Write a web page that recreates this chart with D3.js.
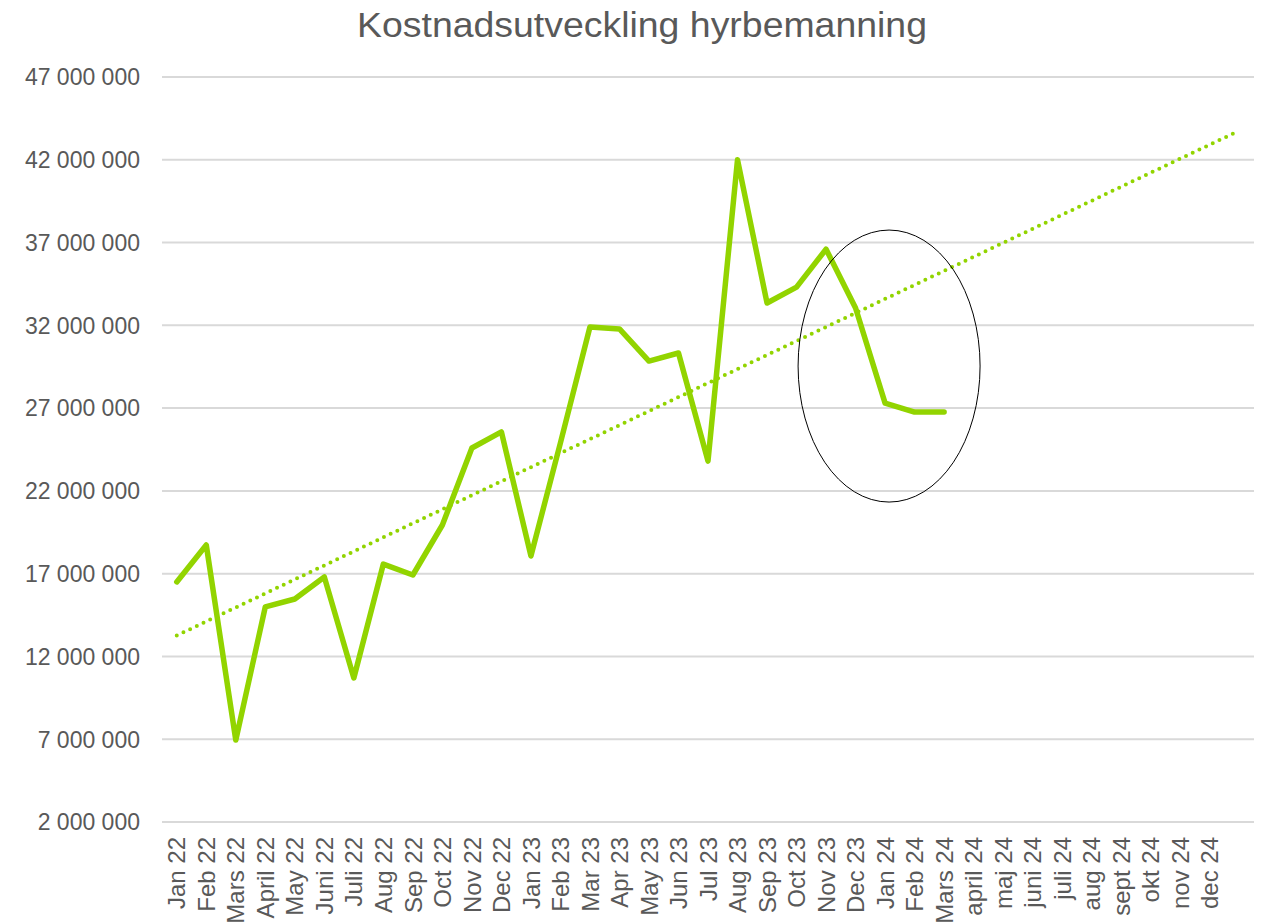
<!DOCTYPE html>
<html>
<head>
<meta charset="utf-8">
<script src="https://cdn.jsdelivr.net/npm/d3@7"></script>
<style>
	body { margin: 0; background: #fff; }
	svg { display: block; font-family: "Liberation Sans", Arial, sans-serif; }
</style>
</head>
<body>
<svg id="chart" width="1268" height="923"></svg>
<script>
const months = [
	"Jan 22", "Feb 22", "Mars 22", "April 22", "May 22", "Juni 22", "Juli 22", "Aug 22",
	"Sep 22", "Oct 22", "Nov 22", "Dec 22", "Jan 23", "Feb 23", "Mar 23", "Apr 23",
	"May 23", "Jun 23", "Jul 23", "Aug 23", "Sep 23", "Oct 23", "Nov 23", "Dec 23",
	"Jan 24", "Feb 24", "Mars 24", "april 24", "maj 24", "juni 24", "juli 24", "aug 24",
	"sept 24", "okt 24", "nov 24", "dec 24"
];

// kostnad per månad (kr), bara t.o.m. Mars 24
const costs = [
	16500000, 18730000, 6950000, 14990000, 15470000, 16800000, 10700000, 17580000,
	16920000, 19940000, 24590000, 25560000, 18070000, 24900000, 31900000, 31780000,
	29840000, 30330000, 23800000, 42000000, 33350000, 34310000, 36600000, 33050000,
	27300000, 26760000, 26760000
];

const yTicks = [2000000, 7000000, 12000000, 17000000, 22000000, 27000000, 32000000, 37000000, 42000000, 47000000];

const title = "Kostnadsutveckling hyrbemanning";
const green = "#92d400";

// ring runt de senaste månaderna
const circleAt = { month: "Jan 24", value: 29540000 };

const svg = d3.select("#chart");

const margin = { left: 162, right: 14, top: 77, bottom: 101 };
const width = 1268 - margin.left - margin.right;
const height = 923 - margin.top - margin.bottom;

const g = svg.append("g")
	.attr("transform", `translate(${margin.left},${margin.top})`);

// one extra slot for the trend forecast period
const x = d3.scaleBand()
	.domain([...months.keys(), months.length])
	.range([0, width]);
const xc = (i) => x(i) + x.bandwidth() / 2;

const y = d3.scaleLinear()
	.domain([2000000, 47000000])
	.range([height, 0]);

const fmt = (v) => d3.format(",")(v).replace(/,/g, " ");

// gridlines
g.append("g")
	.selectAll("line")
	.data(yTicks)
	.join("line")
		.attr("x1", 0)
		.attr("x2", width)
		.attr("y1", d => y(d))
		.attr("y2", d => y(d))
		.attr("stroke", "#d9d9d9")
		.attr("stroke-width", 2);

// y labels
g.append("g")
	.selectAll("text")
	.data(yTicks)
	.join("text")
		.attr("x", -22)
		.attr("y", d => y(d))
		.attr("dy", "0.36em")
		.attr("text-anchor", "end")
		.attr("fill", "#595959")
		.style("font-size", "23px")
		.text(fmt);

// x labels
g.append("g")
	.selectAll("text")
	.data(months)
	.join("text")
		.attr("transform", (d, i) => `translate(${xc(i)},${height + 15}) rotate(-90)`)
		.attr("dy", "0.36em")
		.attr("text-anchor", "end")
		.attr("fill", "#595959")
		.style("font-size", "24px")
		.text(d => d);

// linear trend (least squares), forecast one period forward
const mx = d3.mean(costs, (d, i) => i);
const my = d3.mean(costs);
const slope = d3.sum(costs, (d, i) => (i - mx) * (d - my)) / d3.sum(costs, (d, i) => (i - mx) * (i - mx));
const icpt = my - slope * mx;
const trendEnd = months.length;

g.append("path")
	.datum([0, trendEnd])
	.attr("fill", "none")
	.attr("stroke", green)
	.attr("stroke-width", 4)
	.attr("stroke-linecap", "round")
	.attr("stroke-dasharray", "0 7.4")
	.attr("d", d3.line()
		.x(i => xc(i))
		.y(i => y(icpt + slope * i)));

// data line
g.append("path")
	.datum(costs)
	.attr("fill", "none")
	.attr("stroke", green)
	.attr("stroke-width", 5.5)
	.attr("stroke-linejoin", "round")
	.attr("stroke-linecap", "round")
	.attr("d", d3.line()
		.x((d, i) => xc(i))
		.y(d => y(d)));

// annotation ellipse
g.append("ellipse")
	.attr("cx", xc(months.indexOf(circleAt.month)) + 4)
	.attr("cy", y(circleAt.value))
	.attr("rx", 91)
	.attr("ry", 136)
	.attr("fill", "none")
	.attr("stroke", "#000")
	.attr("stroke-width", 1);

// title
svg.append("text")
	.attr("x", 642)
	.attr("y", 37)
	.attr("text-anchor", "middle")
	.attr("fill", "#595959")
	.attr("textLength", 570)
	.attr("lengthAdjust", "spacingAndGlyphs")
	.style("font-size", "35px")
	.text(title);
</script>
</body>
</html>
